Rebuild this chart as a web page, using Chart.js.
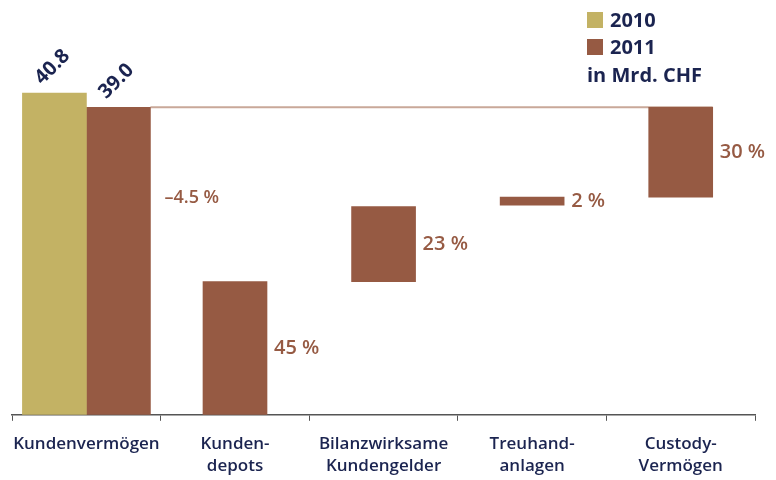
<!DOCTYPE html>
<html>
<head>
<meta charset="utf-8">
<script src="https://cdn.jsdelivr.net/npm/chart.js@4.4.0/dist/chart.umd.min.js"></script>
<style>
  html, body { margin: 0; padding: 0; background: #fff; overflow: hidden; }
  #frame { width: 776px; height: 480px; overflow: hidden; }
  #wrap { width: 776px; height: 492px; position: relative; }
</style>
</head>
<body>
<div id="frame"><div id="wrap"><canvas id="chart"></canvas></div></div>
<script>
// data (Mrd. CHF)
const categories = [['Kundenvermögen'], ['Kunden-', 'depots'], ['Bilanzwirksame', 'Kundengelder'], ['Treuhand-', 'anlagen'], ['Custody-', 'Vermögen']];
const values2010 = [40.8, null, null, null, null];
const ranges2011 = [[0, 39.0], [0, 16.9], [16.9, 26.4], [26.6, 27.6], [27.6, 39.0]];
const valueLabels = ['40.8', '39.0'];
const changeLabels = ['–4.5 %', '45 %', '23 %', '2 %', '30 %'];
const legendLabels = ['2010', '2011'];
const unitLabel = 'in Mrd. CHF';

const gold = '#c3b264';
const brown = '#965a43';
const navy = '#1b2450';
const font = "'Open Sans', 'DejaVu Sans', sans-serif";

// connector line, value labels, change labels and legend
const decorations = {
    id: 'decorations',
    beforeDatasetsDraw(chart) {
        const ctx = chart.ctx;
        const bars = chart.getDatasetMeta(1).data;
        const y = chart.scales.y.getPixelForValue(ranges2011[0][1]);
        ctx.save();
        ctx.strokeStyle = '#c9a899';
        ctx.lineWidth = 2;
        ctx.beginPath();
        ctx.moveTo(bars[0].x + bars[0].width / 2, y);
        ctx.lineTo(bars[4].x + bars[4].width / 2, y);
        ctx.stroke();
        ctx.restore();
    },
    afterDatasetsDraw(chart) {
        const ctx = chart.ctx;
        const yScale = chart.scales.y;
        ctx.save();

        // rotated totals above the first group
        const firstBars = [chart.getDatasetMeta(0).data[0], chart.getDatasetMeta(1).data[0]];
        ctx.fillStyle = navy;
        ctx.font = '700 20px ' + font;
        ctx.textAlign = 'center';
        ctx.textBaseline = 'middle';
        firstBars.forEach((bar, i) => {
            ctx.save();
            ctx.translate(bar.x - 2, bar.y - 26);
            ctx.rotate(-Math.PI / 4);
            ctx.fillText(valueLabels[i], 0, 0);
            ctx.restore();
        });

        // percentage changes to the right of each bar
        const bars = chart.getDatasetMeta(1).data;
        ctx.fillStyle = brown;
        ctx.textAlign = 'left';
        bars.forEach((bar, i) => {
            const right = bar.x + bar.width / 2;
            if (i === 0) {
                ctx.font = '600 18px ' + font;
                ctx.fillText(changeLabels[i], right + 14, yScale.getPixelForValue(27.5));
            } else {
                ctx.font = '600 20px ' + font;
                ctx.fillText(changeLabels[i], right + 7, (bar.y + bar.base) / 2);
            }
        });

        // legend
        const colors = [gold, brown];
        ctx.font = '700 20px ' + font;
        legendLabels.forEach((label, i) => {
            ctx.fillStyle = colors[i];
            ctx.fillRect(587, 12 + i * 27, 16, 16);
            ctx.fillStyle = navy;
            ctx.fillText(label, 610, 21 + i * 27);
        });
        ctx.fillText(unitLabel, 587, 76);
        ctx.restore();
    }
};

new Chart(document.getElementById('chart'), {
    type: 'bar',
    data: {
        labels: categories,
        datasets: [
            {
                label: legendLabels[0],
                data: values2010,
                backgroundColor: gold,
                barThickness: 64
            },
            {
                label: legendLabels[1],
                data: ranges2011,
                backgroundColor: brown,
                barThickness: 64
            }
        ]
    },
    options: {
        responsive: true,
        maintainAspectRatio: false,
        animation: false,
        skipNull: true,
        layout: { padding: { top: 4, left: 12, right: 21, bottom: 3 } },
        plugins: {
            legend: { display: false },
            tooltip: { enabled: false }
        },
        scales: {
            x: {
                grid: {
                    offset: true,
                    drawOnChartArea: false,
                    drawTicks: true,
                    tickLength: 6,
                    color: '#555'
                },
                border: { display: true, color: '#555', width: 1.5 },
                ticks: {
                    color: navy,
                    padding: 12,
                    font: { family: font, size: 17, weight: '600', lineHeight: 1.3 },
                    maxRotation: 0,
                    autoSkip: false
                }
            },
            y: {
                display: false,
                min: 0,
                max: 52.1
            }
        }
    },
    plugins: [decorations]
});
</script>
</body>
</html>
